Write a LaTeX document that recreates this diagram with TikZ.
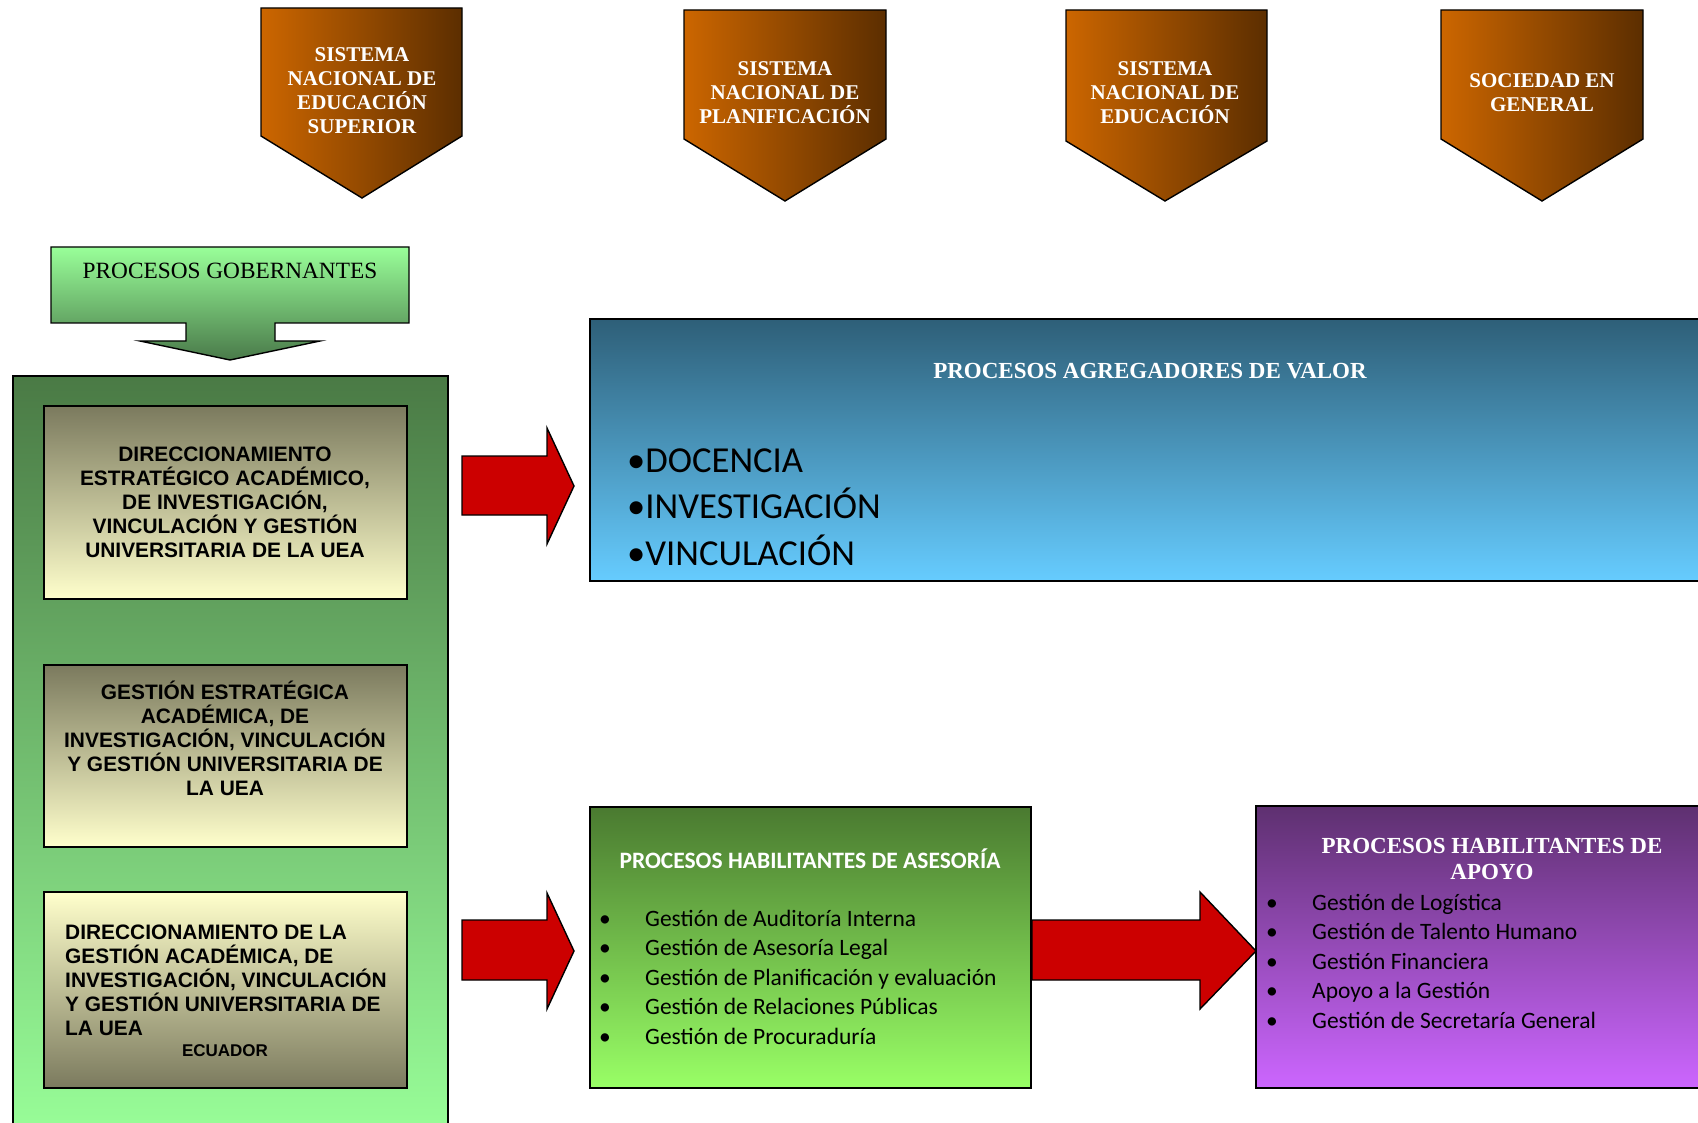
\documentclass[tikz,border=0pt]{standalone}
\usepackage{fontspec}
\setmainfont{Liberation Serif}
\newfontfamily\fTimes{Liberation Serif}
\newfontfamily\fArial{Liberation Sans}
\newfontfamily\fCalib{Carlito}
\definecolor{orL}{HTML}{CC6600}
\definecolor{brR}{HTML}{5C2E00}
\definecolor{lgreen}{HTML}{99FF99}
\definecolor{dgreen}{HTML}{4A7A4A}
\definecolor{contTop}{HTML}{4A7A45}
\definecolor{olive}{HTML}{7B7A5E}
\definecolor{cream}{HTML}{FFFFCC}
\definecolor{redA}{HTML}{CC0000}
\definecolor{blueT}{HTML}{2E5F78}
\definecolor{blueB}{HTML}{66CCFF}
\definecolor{gTop}{HTML}{4A7A30}
\definecolor{gBot}{HTML}{99FF66}
\definecolor{pTop}{HTML}{5E3070}
\definecolor{pBot}{HTML}{CC66FF}
\tikzset{
  outl/.style={draw=black, line width=1.4pt},
  pent/.style={outl, left color=orL, right color=brR},
  penttext/.style={align=center, text=white, font=\fTimes\bfseries\fontsize{21}{24}\selectfont, inner sep=0pt},
  innerbox/.style={outl, minimum width=363pt, minimum height=#1, inner sep=0pt},
  boxtext/.style={align=center, font=\fArial\bfseries\fontsize{20.9}{24}\selectfont, inner sep=0pt},
  redarrow/.style={outl, fill=redA},
  listtext/.style={align=left, anchor=west, font=\fCalib\fontsize{23.5}{29.5}\selectfont, inner sep=0pt},
}
\newcommand{\bul}{\makebox[46pt][l]{\textbullet}}
\begin{document}
\begin{tikzpicture}[x=1pt,y=-1pt]
\clip (0,0) rectangle (1698,1123);
\fill[white] (0,0) rectangle (1698,1123);

% top pentagons
\path[pent] (261,8) -- (462,8) -- (462,136) -- (362,198) -- (261,136) -- cycle;
\node[penttext] (p1) at (362,91) {SISTEMA\\NACIONAL DE\\EDUCACIÓN\\SUPERIOR};
\path[pent] (684,10) -- (886,10) -- (886,139) -- (785,201) -- (684,139) -- cycle;
\node[penttext] (p2) at (785,93) {SISTEMA\\NACIONAL DE\\PLANIFICACIÓN};
\path[pent] (1066,10) -- (1267,10) -- (1267,141) -- (1165,201) -- (1066,141) -- cycle;
\node[penttext] (p3) at (1165,93) {SISTEMA\\NACIONAL DE\\EDUCACIÓN};
\path[pent] (1441,10) -- (1643,10) -- (1643,139) -- (1542,201) -- (1441,139) -- cycle;
\node[penttext] (p4) at (1542,93) {SOCIEDAD EN\\GENERAL};

% procesos gobernantes
\path[outl, top color=lgreen, bottom color=dgreen]
  (51,247) -- (409,247) -- (409,323) -- (275,323) -- (275,341) -- (320,341)
  -- (230,360) -- (140,341) -- (186,341) -- (186,323) -- (51,323) -- cycle;
\node[font=\fTimes\fontsize{23.3}{26}\selectfont, inner sep=0pt] (gob) at (230,271) {PROCESOS GOBERNANTES};

% left container
\path[outl, top color=contTop, bottom color=lgreen] (13,376) rectangle (448,1140);
\node[innerbox=193pt, top color=olive, bottom color=cream] (b1) at (225.5,502.5) {};
\node[boxtext] (t1) at (225,502) {DIRECCIONAMIENTO\\ESTRATÉGICO ACADÉMICO,\\DE INVESTIGACIÓN,\\VINCULACIÓN Y GESTIÓN\\UNIVERSITARIA DE LA UEA};
\node[innerbox=182pt, top color=olive, bottom color=cream] (b2) at (225.5,756) {};
\node[boxtext] (t2) at (225,738) {GESTIÓN ESTRATÉGICA\\ACADÉMICA, DE\\INVESTIGACIÓN, VINCULACIÓN\\Y GESTIÓN UNIVERSITARIA DE\\LA UEA};
\node[innerbox=196pt, top color=cream, bottom color=olive] (b3) at (225.5,990) {};
\node[boxtext, align=left, anchor=west] (t3) at (65,980) {DIRECCIONAMIENTO DE LA\\GESTIÓN ACADÉMICA, DE\\INVESTIGACIÓN, VINCULACIÓN\\Y GESTIÓN UNIVERSITARIA DE\\LA UEA};
\node[font=\fArial\bfseries\fontsize{17}{20}\selectfont, inner sep=0pt] (ec) at (225,1051) {ECUADOR};

% red arrows
\path[redarrow] (462,456) -- (547,456) -- (547,428) -- (574,486) -- (547,544) -- (547,515) -- (462,515) -- cycle;
\path[redarrow] (462,920) -- (547,920) -- (547,893) -- (574,951) -- (547,1009) -- (547,980) -- (462,980) -- cycle;

% blue box
\path[outl, top color=blueT, bottom color=blueB] (590,319) rectangle (1720,581);
\node[font=\fTimes\bfseries\fontsize{23}{26}\selectfont, text=white, inner sep=0pt] (agv) at (1150,371) {PROCESOS AGREGADORES DE VALOR};
\node[align=left, anchor=west, font=\fCalib\fontsize{36.6}{46.5}\selectfont, inner sep=0pt] (agl) at (627,507) {\textbullet DOCENCIA\\\textbullet INVESTIGACIÓN\\\textbullet VINCULACIÓN};

% asesoria box
\path[outl, top color=gTop, bottom color=gBot] (590,807) rectangle (1031,1088);
\node[font=\fCalib\bfseries\fontsize{23.5}{26}\selectfont, text=white, inner sep=0pt] (ase) at (810,859) {PROCESOS HABILITANTES DE ASESORÍA};
\node[listtext] (asl) at (599,977) {\bul Gestión de Auditoría Interna\\\bul Gestión de Asesoría Legal\\\bul Gestión de Planificación y evaluación\\\bul Gestión de Relaciones Públicas\\\bul Gestión de Procuraduría};

% arrow to purple
\path[redarrow] (1032,920) -- (1200,920) -- (1200,892) -- (1256,951) -- (1200,1009) -- (1200,980) -- (1032,980) -- cycle;

% purple box
\path[outl, top color=pTop, bottom color=pBot] (1256,806) rectangle (1720,1088);
\node[align=center, font=\fTimes\bfseries\fontsize{23}{26}\selectfont, text=white, inner sep=0pt] (apo) at (1492,859) {PROCESOS HABILITANTES DE\\APOYO};
\node[listtext] (apl) at (1266,961) {\bul Gestión de Logística\\\bul Gestión de Talento Humano\\\bul Gestión Financiera\\\bul Apoyo a la Gestión\\\bul Gestión de Secretaría General};
\end{tikzpicture}
\end{document}
